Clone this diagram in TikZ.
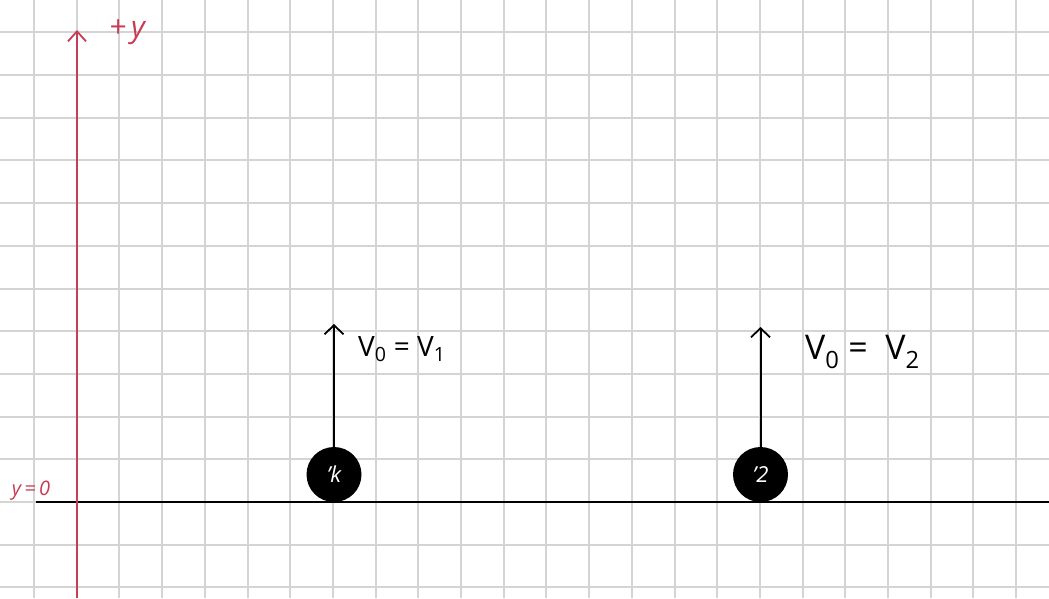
\documentclass[tikz,border=0pt]{standalone}
\usepackage{fontspec}
\setmainfont{Open Sans}
\usetikzlibrary{arrows.meta}
\definecolor{axisred}{RGB}{200,60,85}
\definecolor{gridgray}{RGB}{212,212,212}
\begin{document}
\begin{tikzpicture}[x=1pt,y=-1pt,
  gridline/.style={gridgray,line width=2pt},
  ball/.style={circle,fill=black,minimum size=55pt,inner sep=0pt,text=white,font=\fontsize{22}{22}\selectfont\itshape},
  vec/.style={line width=2pt,-{Straight Barb[length=9pt,width=19pt,line width=1.8pt]}},
  axis/.style={axisred,line width=2pt,-{Straight Barb[length=10pt,width=18pt,line width=1.8pt]}},
  redlabel/.style={text=axisred,inner sep=0pt},
  veclabel/.style={anchor=west,inner sep=0pt}]
\useasboundingbox (0,0) rectangle (1049,598);
\fill[white] (0,0) rectangle (1049,598);
% grid
\foreach \i in {0,...,23} \draw[gridline] ({34+42.7*\i},0) -- ({34+42.7*\i},598);
\foreach \j in {-2,...,11} \draw[gridline] (0,{502-42.7*\j}) -- (1049,{502-42.7*\j});
% ground line
\coordinate (g0) at (36,502);
\coordinate (g1) at (1049,502);
\draw[line width=2pt] (g0) -- (g1);
% y axis
\coordinate (ybot) at (77,598);
\coordinate (ytop) at (77,30);
\draw[axis] (ybot) -- (ytop);
\node[redlabel,font=\fontsize{30}{30}\selectfont\itshape] (plusy) at (127,32) {+\,y};
\node[redlabel,font=\fontsize{20}{20}\selectfont\itshape] (yzero) at (31,491) {y\,=\,0};
% balls
\node[ball] (b1) at (334,474.5) {'k};
\node[ball] (b2) at (760.5,474.5) {'2};
\coordinate (t1) at (334,324);
\coordinate (t2) at (760.5,327);
\draw[vec] (b1.north) -- (t1);
\draw[vec] (b2.north) -- (t2);
\node[veclabel,font=\fontsize{28}{28}\selectfont] (l1) at (358,349) {V\textsubscript{0} = V\textsubscript{1}};
\node[veclabel,font=\fontsize{34}{34}\selectfont] (l2) at (805,352) {V\textsubscript{0} =\ \ V\textsubscript{2}};
\end{tikzpicture}
\end{document}
